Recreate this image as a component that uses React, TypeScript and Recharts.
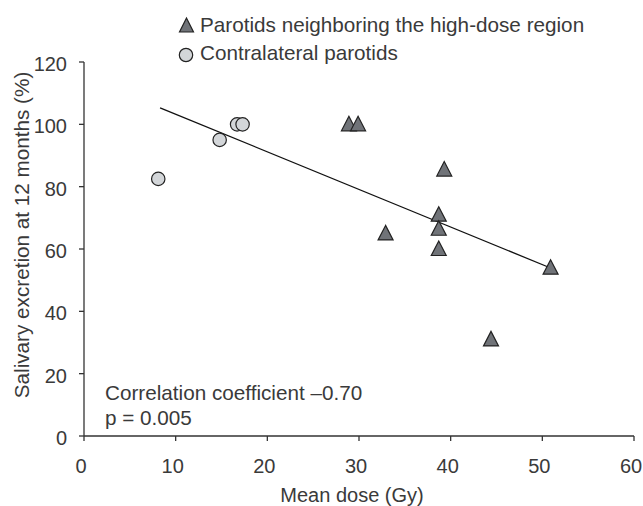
import React from "react";
import {
  ScatterChart,
  Scatter,
  XAxis,
  YAxis,
  ReferenceLine,
  Customized,
} from "recharts";

const contralateralDose = [8.1, 14.8, 16.7, 17.3];
const contralateralExcretion = [82.5, 95, 100, 100];

const neighboringDose = [28.9, 29.9, 39.3, 38.7, 38.7, 38.7, 32.9, 50.9, 44.4];
const neighboringExcretion = [100, 100, 85.5, 71, 66.5, 60, 65, 54, 31];

const fitX = [8.3, 50.9];
const fitY = [105.3, 53.9];

const xTicks = [0, 10, 20, 30, 40, 50, 60];
const yTicks = [0, 20, 40, 60, 80, 100, 120];

const seriesNames = ["Parotids neighboring the high-dose region", "Contralateral parotids"];
const annotation = ["Correlation coefficient \u20130.70", "p = 0.005"];
const xTitle = "Mean dose (Gy)";
const yTitle = "Salivary excretion at 12 months (%)";

const contralateral = contralateralDose.map((x, i) => ({ x, y: contralateralExcretion[i] }));
const neighboring = neighboringDose.map((x, i) => ({ x, y: neighboringExcretion[i] }));

const FONT = "'Liberation Sans', Arial, sans-serif";
const FS = 20;
const FS_L = 20.7;
const TEXT = "#3a3a3a";
const TRI_FILL = "#707378";
const CIRC_FILL = "#d3d6d9";
const STROKE = "#222222";
const AXIS = "#333333";

const Triangle = (props: any) => {
  const { cx, cy } = props;
  if (cx == null || cy == null) return null;
  const w = 7.5;
  return (
    <polygon
      points={`${cx},${cy - 8} ${cx - w},${cy + 6.5} ${cx + w},${cy + 6.5}`}
      fill={TRI_FILL}
      stroke={STROKE}
      strokeWidth={1.2}
    />
  );
};

const Circle = (props: any) => {
  const { cx, cy } = props;
  if (cx == null || cy == null) return null;
  return <circle cx={cx} cy={cy} r={6.7} fill={CIRC_FILL} stroke={STROKE} strokeWidth={1.2} />;
};

const XTick = (props: any) => {
  const { x, y, payload } = props;
  return (
    <text x={x - 3} y={y} dy="0.71em" textAnchor="middle" fontFamily={FONT} fontSize={FS} fill={TEXT}>
      {payload.value}
    </text>
  );
};

const YTick = (props: any) => {
  const { x, y, payload } = props;
  return (
    <text x={x} y={y + 2} dy="0.355em" textAnchor="end" fontFamily={FONT} fontSize={FS} fill={TEXT}>
      {payload.value}
    </text>
  );
};

const Texts = () => (
  <g fontFamily={FONT} fontSize={FS_L} fill={TEXT}>
    <polygon points="186.5,18 179.5,32 193.5,32" fill={TRI_FILL} stroke={STROKE} strokeWidth={1.2} />
    <text x={200} y={32}>{seriesNames[0]}</text>
    <circle cx={186} cy={55} r={6.7} fill={CIRC_FILL} stroke={STROKE} strokeWidth={1.2} />
    <text x={200} y={60}>{seriesNames[1]}</text>
    <text x={105} y={400}>{annotation[0]}</text>
    <text x={105} y={425}>{annotation[1]}</text>
    <text x={352} y={502} textAnchor="middle" fontSize={FS}>{xTitle}</text>
    <text x={29} y={235} textAnchor="middle" transform="rotate(-90 29 235)">{yTitle}</text>
  </g>
);

export default function App() {
  return (
    <div style={{ position: "absolute", left: 0, top: 0, background: "#fff" }}>
      <ScatterChart
        width={643}
        height={506}
        margin={{ top: 62, right: 9, bottom: 20, left: 24 }}
      >
        <XAxis
          type="number"
          dataKey="x"
          domain={[0, 60]}
          ticks={xTicks}
          interval={0}
          height={50}
          axisLine={{ stroke: AXIS, strokeWidth: 1.3 }}
          tickLine={{ stroke: AXIS, strokeWidth: 1.3 }}
          tickSize={5}
          tick={XTick}
          tickMargin={18}
        />
        <YAxis
          type="number"
          dataKey="y"
          domain={[0, 120]}
          ticks={yTicks}
          interval={0}
          width={60}
          axisLine={{ stroke: AXIS, strokeWidth: 1.3 }}
          tickLine={{ stroke: AXIS, strokeWidth: 1.3 }}
          tickSize={5}
          tick={YTick}
          tickMargin={12}
        />
        <ReferenceLine
          segment={[
            { x: fitX[0], y: fitY[0] },
            { x: fitX[1], y: fitY[1] },
          ]}
          stroke="#111"
          strokeWidth={1.3}
        />
        <Scatter
          name={seriesNames[1]}
          data={contralateral}
          shape={Circle}
          isAnimationActive={false}
        />
        <Scatter
          name={seriesNames[0]}
          data={neighboring}
          shape={Triangle}
          isAnimationActive={false}
        />
        <Customized component={Texts} />
      </ScatterChart>
    </div>
  );
}
